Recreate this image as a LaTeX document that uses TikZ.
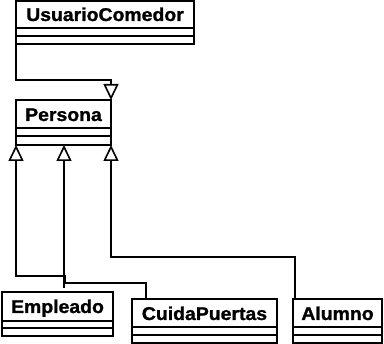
\documentclass[tikz,border=0pt]{standalone}
\usepackage{fontspec}
\setmainfont{Liberation Sans}[FakeStretch=1.05,FakeBold=1.2]
\usetikzlibrary{arrows.meta,calc}
\begin{document}
\begin{tikzpicture}[x=1pt,y=-1pt,
  clsbox/.style={draw,line width=2pt,anchor=north west,inner sep=0pt,outer sep=0pt,fill=white},
  lbl/.style={font=\fontsize{18.5}{20}\selectfont\bfseries,inner sep=0pt,anchor=base},
  conn/.style={line width=1.8pt},
  gen/.style={conn,-{Triangle[open,length=16pt,width=15pt,line width=1.6pt]}}]
\useasboundingbox (0,0) rectangle (384,344);
% classes
\node[clsbox,minimum width=178,minimum height=43] (uc) at (16,1) {};
\node[clsbox,minimum width=95,minimum height=45] (pe) at (16,100) {};
\node[clsbox,minimum width=111,minimum height=44] (em) at (2,292) {};
\node[clsbox,minimum width=145,minimum height=44] (cp) at (132,299) {};
\node[clsbox,minimum width=89,minimum height=44] (al) at (293,299) {};
% labels
\node[lbl] (ucl) at ($(uc.north)+(0,20)$) {UsuarioComedor};
\node[lbl] (pel) at ($(pe.north)+(0,21)$) {Persona};
\node[lbl] (eml) at ($(em.north)+(0,21)$) {Empleado};
\node[lbl] (cpl) at ($(cp.north)+(0,21)$) {CuidaPuertas};
\node[lbl] (all) at ($(al.north)+(0,21)$) {Alumno};
% compartments
\foreach \n/\a/\b in {uc/27/35, pe/28/36, em/29/36, cp/28/36, al/28/36}{
  \draw[line width=2pt] ($(\n.north west)+(0,\a)$) -- ($(\n.north east)+(0,\a)$);
  \draw[line width=2pt] ($(\n.north west)+(0,\b)$) -- ($(\n.north east)+(0,\b)$);
}
% connector UsuarioComedor -> Persona
\coordinate (c1) at ($(uc.south west)+(0,36)$);
\coordinate (c2) at ($(pe.north east)+(0,-20)$);
\draw[gen] (uc.south west) -- (c1) -- (c2) -- (pe.north east);
% Empleado -> Persona (middle)
\coordinate (pm) at ($(pe.south west)+(48,0)$);
\coordinate (emt) at ($(em.north west)+(62,-4)$);
\draw[gen] (emt) -- (pm);
% CuidaPuertas -> Persona (left)
\coordinate (cpt) at ($(cp.north west)+(14,0)$);
\coordinate (d1) at ($(cpt)+(0,-16)$);
\coordinate (d2) at (65,283);
\coordinate (d3) at (65,276);
\coordinate (d4) at ($(pe.south west)+(0,131)$);
\draw[gen] (cpt) -- (d1) -- (d2) -- (d3) -- (d4) -- (pe.south west);
% Alumno -> Persona (right)
\coordinate (alt) at ($(al.north west)+(2,0)$);
\coordinate (a1) at ($(alt)+(0,-42)$);
\coordinate (a2) at ($(pe.south east)+(0,112)$);
\draw[gen] (alt) -- (a1) -- (a2) -- (pe.south east);
\end{tikzpicture}
\end{document}
